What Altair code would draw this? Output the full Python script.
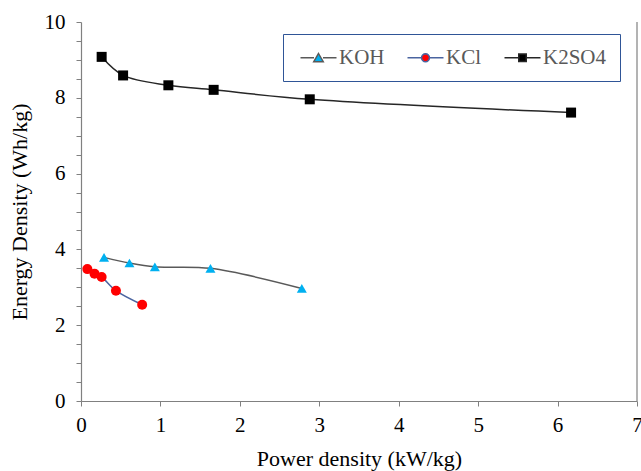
import math
import altair as alt
import pandas as pd

# Series per electrolyte: power density (kW/kg) vs energy density (Wh/kg)
koh_power = [0.29, 0.61, 0.93, 1.63, 2.78]
koh_energy = [3.79, 3.64, 3.54, 3.50, 2.97]

kcl_power = [0.08, 0.17, 0.26, 0.44, 0.77]
kcl_energy = [3.48, 3.36, 3.27, 2.91, 2.54]

k2so4_power = [0.26, 0.53, 1.10, 1.67, 2.88, 6.17]
k2so4_energy = [9.08, 8.59, 8.33, 8.21, 7.96, 7.61]

series_names = ["KOH", "KCl", "K2SO4"]
marker_colors = ["#00B0F0", "#FF0000", "#000000"]
line_colors = ["#595959", "#4A64A0", "#262626"]
marker_shapes = ["triangle-up", "circle", "square"]


def round_glyph(r, n=16):
    pts = [(r * math.cos(2 * math.pi * k / n), r * math.sin(2 * math.pi * k / n)) for k in range(n)]
    return "M" + "L".join(f"{x:.3f},{y:.3f}" for x, y in pts) + "Z"


# legend glyphs: a short line sample broken around the series marker
legend_glyphs = [
    "M-3.6,0H-0.9M0.9,0H3.6M0,-0.85L0.95,0.8L-0.95,0.8Z",
    "M-3.6,0H-0.8M0.8,0H3.6" + round_glyph(0.8),
    "M-3.6,0H-0.75M0.75,0H3.6M-0.75,-0.75H0.75V0.75H-0.75Z",
]

x_ticks = [i * 0.25 for i in range(0, 29)]
y_ticks = [i * 0.5 for i in range(0, 21)]

rows = []
for name, xs, ys in [("KOH", koh_power, koh_energy),
                     ("KCl", kcl_power, kcl_energy),
                     ("K2SO4", k2so4_power, k2so4_energy)]:
    for i, (px, ey) in enumerate(zip(xs, ys)):
        rows.append({"series": name, "power": px, "energy": ey, "order": i})
df = pd.DataFrame(rows)

FONT = "Liberation Serif"
AXIS_GRAY = "#808080"

axis_common = dict(
    grid=False,
    tickSize=5,
    labelOverlap=False,
    labelFlush=False,
    labelFont=FONT,
    titleFont=FONT,
    labelFontSize=21,
    titleFontSize=22,
    titleFontWeight="normal",
    labelColor="#000000",
    titleColor="#000000",
    domainColor=AXIS_GRAY,
    tickColor=AXIS_GRAY,
    domainWidth=1.2,
    tickWidth=1,
)

x_enc = alt.X(
    "power:Q",
    scale=alt.Scale(domain=[0, 7], nice=False, zero=True),
    axis=alt.Axis(
        title="Power density (kW/kg)",
        values=x_ticks,
        labelExpr="datum.value % 1 === 0 ? format(datum.value, 'd') : ''",
        labelPadding=8,
        titlePadding=13,
        **axis_common,
    ),
)
y_enc = alt.Y(
    "energy:Q",
    scale=alt.Scale(domain=[0, 10], nice=False),
    axis=alt.Axis(
        title="Energy Density (Wh/kg)",
        values=y_ticks,
        labelExpr="datum.value % 2 === 0 ? format(datum.value, 'd') : ''",
        labelPadding=11,
        titlePadding=13,
        **axis_common,
    ),
)

lines = alt.Chart(df).mark_line(interpolate="catmull-rom", strokeWidth=1.5).encode(
    x=x_enc,
    y=y_enc,
    order="order:Q",
    stroke=alt.Stroke(
        "series:N",
        scale=alt.Scale(domain=series_names, range=line_colors),
        legend=None,
    ),
)

points = alt.Chart(df).mark_point(filled=True, size=100, opacity=1, strokeWidth=0).encode(
    x=x_enc,
    y=y_enc,
    fill=alt.Fill("series:N", scale=alt.Scale(domain=series_names, range=marker_colors), legend=None),
    shape=alt.Shape("series:N", scale=alt.Scale(domain=series_names, range=marker_shapes), legend=None),
)

# Legend-only layer: draws no rows, its scales carry the combined line + marker glyphs
series_legend = alt.Legend(
    title=None,
    orient="none",
    legendX=202,
    legendY=12,
    direction="horizontal",
    symbolSize=100,
    symbolStrokeWidth=1.5,
    symbolOpacity=1,
    symbolOffset=12,
    labelOffset=10,
    columnPadding=18,
    padding=13,
    strokeColor="#2F5597",
    fillColor="white",
    labelFont=FONT,
    labelFontSize=21,
    labelColor="#595959",
    labelLimit=200,
)
legend_layer = (
    alt.Chart(df)
    .transform_filter("false")
    .mark_point(filled=True, opacity=1)
    .encode(
        x=x_enc,
        y=y_enc,
        shape=alt.Shape("series:N", scale=alt.Scale(domain=series_names, range=legend_glyphs), legend=series_legend),
        fill=alt.Fill("series:N", scale=alt.Scale(domain=series_names, range=marker_colors), legend=series_legend),
        stroke=alt.Stroke("series:N", scale=alt.Scale(domain=series_names, range=line_colors), legend=series_legend),
    )
)

# right-hand frame line at the end of the x range
frame = alt.Chart(pd.DataFrame({"edge": [7]})).mark_rule(color=AXIS_GRAY, strokeWidth=1.2).encode(
    x=alt.X("edge:Q", scale=alt.Scale(domain=[0, 7], nice=False))
)

chart = (
    alt.layer(lines, points, frame, legend_layer)
    .resolve_scale(fill="independent", shape="independent", stroke="independent")
    .properties(
        width=556,
        height=379,
        padding={"left": 81, "top": 22, "right": 4, "bottom": 70},
        autosize=alt.AutoSizeParams(type="none"),
        background="white",
    )
    .configure_view(stroke=None)
)

chart.save("out.html", embed_options={"renderer": "svg", "actions": False})
